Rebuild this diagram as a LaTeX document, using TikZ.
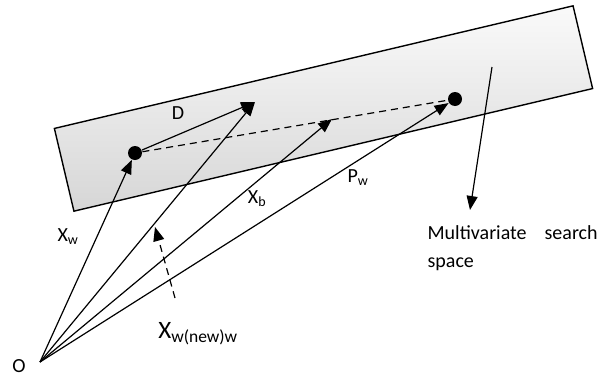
\documentclass[tikz,border=0pt]{standalone}
\usepackage{fontspec}
\setmainfont{Carlito}
\usetikzlibrary{arrows.meta}

\begin{document}
\begin{tikzpicture}[x=1pt, y=-1pt, line width=1.2pt, >={Triangle[length=14pt,width=11pt]},
  dot/.style={circle,fill,inner sep=0pt,minimum size=14pt},
  lbl/.style={font=\fontsize{20}{24}\selectfont,inner sep=0pt}]
\useasboundingbox (0,0) rectangle (608,378);

% search space
\node[draw, line width=1.4pt, rotate=13.3, minimum width=533pt, minimum height=85pt,
  inner sep=0pt, top color=gray!4, bottom color=gray!32] (space) at (323.5,108.5) {};

\coordinate (O) at (40,362);
\node[dot] (w) at (135,153) {};
\node[dot] (p) at (455,99) {};
\coordinate (d) at (255,102);
\coordinate (b) at (332,119);
\coordinate (n0) at (175,298);
\coordinate (n1) at (155,227);
\coordinate (s0) at (492,67);
\coordinate (s1) at (470,210);

% vectors from the origin
\draw[->] (O) -- (w);
\draw[->] (O) -- (d);
\draw[->] (O) -- (b);
\draw[->] (O) -- (p);

\draw[->] (w) -- (d);
\draw[dash pattern=on 7pt off 5pt] (w) -- (p);
\draw[->, dash pattern=on 7pt off 5pt] (n0) -- (n1);
\draw[->] (s0) -- (s1);

% labels
\node[lbl] (Dl) at (178,113) {D};
\node[lbl] (Xbl) at (257,199) {X\textsubscript{b}};
\node[lbl] (Pwl) at (358,178) {P\textsubscript{w}};
\node[lbl] (Xwl) at (68,237) {X\textsubscript{w}};
\node[lbl, font=\fontsize{25}{30}\selectfont] (Xnl) at (198,334) {X\textsubscript{w(new)w}};
\node[lbl] (Ol) at (19,366) {O};
\node[lbl, anchor=base west] (ms) at (427,239) {Multivariate\hspace{18pt}search};
\node[lbl, anchor=base west] (sp) at (427,267) {space};

\end{tikzpicture}
\end{document}
